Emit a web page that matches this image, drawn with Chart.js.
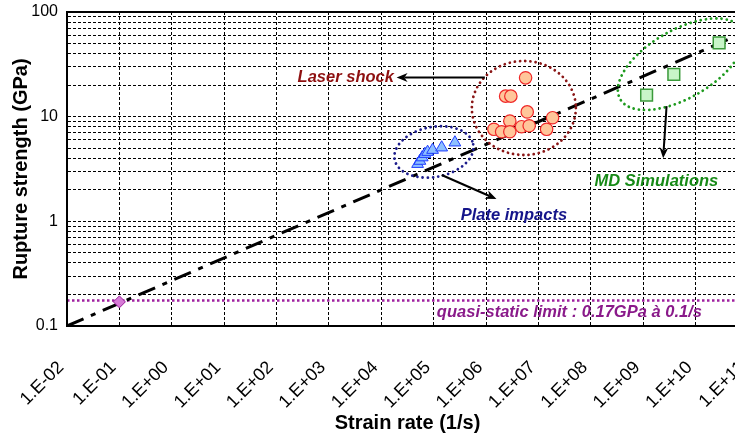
<!DOCTYPE html>
<html>
<head>
<meta charset="utf-8">
<script src="https://cdn.jsdelivr.net/npm/chart.js"></script>
<style>
    html, body { margin: 0; padding: 0; background: #fff; overflow: hidden; }
    #wrap { width: 766px; height: 441px; }
</style>
</head>
<body>
<div id="wrap"><canvas id="chart" width="766" height="441"></canvas></div>
<script>
const FONT = '"Liberation Sans", Arial, Helvetica, sans-serif';

// axes
const xTickValues = [1e-2, 1e-1, 1e0, 1e1, 1e2, 1e3, 1e4, 1e5, 1e6, 1e7, 1e8, 1e9, 1e10, 1e11];
const xTickLabels = ["1.E-02", "1.E-01", "1.E+00", "1.E+01", "1.E+02", "1.E+03", "1.E+04",
    "1.E+05", "1.E+06", "1.E+07", "1.E+08", "1.E+09", "1.E+10", "1.E+11"];
const yTickValues = [0.1, 1, 10, 100];
const yTickLabels = ["0.1", "1", "10", "100"];

// series (strain rate 1/s, rupture strength GPa)
const quasiStaticRate = [1e-1];
const quasiStaticStrength = [0.17];

const plateRate = [4.93e4, 5.46e4, 6.04e4, 6.79e4, 7.65e4, 9.53e4, 1.42e5, 2.54e5];
const plateStrength = [3.53, 3.78, 4.08, 4.40, 4.60, 4.81, 5.07, 5.66];

const laserRate = [5.68e6, 2.36e6, 2.97e6, 6.10e6, 2.84e6, 1.86e7, 1.41e6, 1.98e6, 2.84e6, 4.75e6, 6.65e6, 1.43e7];
const laserStrength = [23.5, 15.7, 15.7, 11.1, 9.08, 9.77, 7.57, 7.18, 7.18, 8.02, 8.18, 7.57];

const mdRate = [2.81e10, 3.84e9, 1.16e9];
const mdStrength = [50.6, 25.3, 16.1];

const trendRate = [1e-2, 1e11];
const trendStrength = [0.1, 66];

const limitRate = [1e-2, 1e11];
const limitStrength = [0.175, 0.175];

// annotations, anchored in data space
const ellipses = [
    { x: 5.26e6, y: 12.1, rx: 52, ry: 47, rot: 0, color: "#8a1616" },
    { x: 1.01e5, y: 4.6, rx: 40, ry: 25, rot: -11, color: "#1c1c8c" },
    { x: 5.22e9, y: 31.7, rx: 70, ry: 34, rot: -30, color: "#1e9a1e" },
];
const arrows = [
    { from: [9.48e5, 23.7], to: [1.96e4, 23.7] },
    { from: [1.42e5, 2.77], to: [1.58e6, 1.63] },
    { from: [2.79e9, 12.6], to: [2.40e9, 4.0] },
];
const notes = [
    { text: "Laser shock", x: 1.74e4, y: 23.7, align: "right", color: "#8e1010" },
    { text: "Plate impacts", x: 3.40e6, y: 1.15, align: "center", color: "#14148a" },
    { text: "MD Simulations", x: 1.78e9, y: 2.39, align: "center", color: "#178a17" },
    { text: "quasi-static limit : 0.17GPa à 0.1/s", x: 1.15e5, y: 0.136, align: "left", color: "#8a1a8a" },
];

const zip = (xs, ys) => xs.map((x, i) => ({ x: x, y: ys[i] }));

// minor horizontal grid: 1..9 in each decade
const yGrid = [];
for (let d = 0; d < yTickValues.length - 1; d++) {
    for (let k = 1; k < 10; k++) yGrid.push(yTickValues[d] * k);
}
yGrid.push(yTickValues[yTickValues.length - 1]);

function drawArrow(ctx, x1, y1, x2, y2) {
    const a = Math.atan2(y2 - y1, x2 - x1);
    const len = 11, half = 4.5;
    const c = Math.cos(a), s = Math.sin(a);
    ctx.beginPath();
    ctx.moveTo(x1, y1);
    ctx.lineTo(x2 - c * len * 0.7, y2 - s * len * 0.7);
    ctx.stroke();
    ctx.beginPath();
    ctx.moveTo(x2, y2);
    ctx.lineTo(x2 - c * len - s * half, y2 - s * len + c * half);
    ctx.lineTo(x2 - c * len * 0.7, y2 - s * len * 0.7);
    ctx.lineTo(x2 - c * len + s * half, y2 - s * len - c * half);
    ctx.closePath();
    ctx.fill();
}

const annotations = {
    id: "annotations",
    afterDatasetsDraw(chart) {
        const { ctx, chartArea, scales } = chart;
        const px = (v) => scales.x.getPixelForValue(v);
        const py = (v) => scales.y.getPixelForValue(v);

        ctx.save();
        ctx.beginPath();
        ctx.rect(chartArea.left, chartArea.top, chartArea.right - chartArea.left, chartArea.bottom - chartArea.top);
        ctx.clip();

        ellipses.forEach((e) => {
            ctx.save();
            ctx.strokeStyle = e.color;
            ctx.lineWidth = 2.8;
            ctx.lineCap = "round";
            ctx.setLineDash([0.01, 5.2]);
            ctx.beginPath();
            ctx.ellipse(px(e.x), py(e.y), e.rx, e.ry, e.rot * Math.PI / 180, 0, Math.PI * 2);
            ctx.stroke();
            ctx.restore();
        });

        ctx.strokeStyle = "#000";
        ctx.fillStyle = "#000";
        ctx.lineWidth = 2;
        arrows.forEach((a) => {
            drawArrow(ctx, px(a.from[0]), py(a.from[1]), px(a.to[0]), py(a.to[1]));
        });

        ctx.font = "italic bold 16.5px " + FONT;
        ctx.textBaseline = "middle";
        notes.forEach((n) => {
            ctx.fillStyle = n.color;
            ctx.textAlign = n.align;
            ctx.fillText(n.text, px(n.x), py(n.y));
        });
        ctx.restore();
    },
    afterDraw(chart) {
        const { ctx, chartArea } = chart;
        ctx.save();
        ctx.strokeStyle = "#000";
        ctx.lineWidth = 2;
        ctx.strokeRect(chartArea.left, chartArea.top, chartArea.right - chartArea.left, chartArea.bottom - chartArea.top);
        ctx.restore();
    }
};

new Chart(document.getElementById("chart"), {
    type: "scatter",
    data: {
        datasets: [
            {
                label: "Quasi-static",
                data: zip(quasiStaticRate, quasiStaticStrength),
                pointStyle: "rectRot",
                pointRadius: 6,
                backgroundColor: "#d67ad6",
                borderColor: "#9b1f9b",
                borderWidth: 1,
            },
            {
                label: "Plate impacts",
                data: zip(plateRate, plateStrength),
                pointStyle: "triangle",
                pointRadius: 6.8,
                backgroundColor: "#8ec0ff",
                borderColor: "#1e3cff",
                borderWidth: 1,
            },
            {
                label: "Laser shock",
                data: zip(laserRate, laserStrength),
                pointStyle: "circle",
                pointRadius: 6.2,
                backgroundColor: "#ffc69a",
                borderColor: "#f02828",
                borderWidth: 1.2,
            },
            {
                label: "MD Simulations",
                data: zip(mdRate, mdStrength),
                pointStyle: "rect",
                pointRadius: 8.3,
                backgroundColor: "#c8f5c8",
                borderColor: "#3a9a3a",
                borderWidth: 1.5,
            },
            {
                label: "Trend",
                type: "line",
                data: zip(trendRate, trendStrength),
                borderColor: "#000",
                borderWidth: 3,
                borderDash: [18, 8, 5, 8],
                pointRadius: 0,
                fill: false,
            },
            {
                label: "Quasi-static limit",
                type: "line",
                data: zip(limitRate, limitStrength),
                borderColor: "#a020a0",
                borderWidth: 2.5,
                borderDash: [2.5, 2.5],
                pointRadius: 0,
                fill: false,
            },
        ]
    },
    options: {
        responsive: false,
        maintainAspectRatio: false,
        animation: false,
        events: [],
        layout: { padding: { top: 12, right: 18, left: 0, bottom: 0 } },
        plugins: {
            legend: { display: false },
            tooltip: { enabled: false },
        },
        scales: {
            x: {
                type: "logarithmic",
                min: 1e-2,
                max: 1e11,
                afterBuildTicks: (scale) => {
                    scale.ticks = xTickValues.map((v) => ({ value: v }));
                },
                afterFit: (scale) => {
                    scale.height = 115;
                    scale.paddingLeft = 0;
                    scale.paddingRight = 0;
                },
                ticks: {
                    autoSkip: false,
                    minRotation: 45,
                    maxRotation: 45,
                    padding: 31,
                    labelOffset: -6,
                    color: "#000",
                    font: { family: FONT, size: 18 },
                    callback: (value, index) => xTickLabels[index],
                },
                grid: { color: "#000", lineWidth: 1, drawTicks: false },
                border: { display: true, color: "#000", width: 2, dash: [3, 2] },
                title: {
                    display: true,
                    text: "Strain rate (1/s)",
                    color: "#000",
                    font: { family: FONT, size: 20, weight: "bold" },
                    padding: { top: 0, bottom: 6 },
                },
            },
            y: {
                type: "logarithmic",
                min: 0.1,
                max: 100,
                afterBuildTicks: (scale) => {
                    scale.ticks = yGrid.map((v) => ({ value: v }));
                },
                afterFit: (scale) => {
                    scale.width = 67;
                    scale.paddingTop = 0;
                    scale.paddingBottom = 0;
                },
                ticks: {
                    autoSkip: false,
                    padding: 9,
                    color: "#000",
                    font: { family: FONT, size: 16 },
                    callback: (value) => {
                        const i = yTickValues.findIndex((v) => Math.abs(v - value) / v < 1e-6);
                        return i >= 0 ? yTickLabels[i] : "";
                    },
                },
                grid: { color: "#000", lineWidth: 1, drawTicks: false },
                border: { display: true, color: "#000", width: 2, dash: [3, 2] },
                title: {
                    display: true,
                    text: "Rupture strength (GPa)",
                    color: "#000",
                    font: { family: FONT, size: 20, weight: "bold" },
                    padding: { top: 9, bottom: 0 },
                },
            },
        },
    },
    plugins: [annotations],
});
</script>
</body>
</html>
